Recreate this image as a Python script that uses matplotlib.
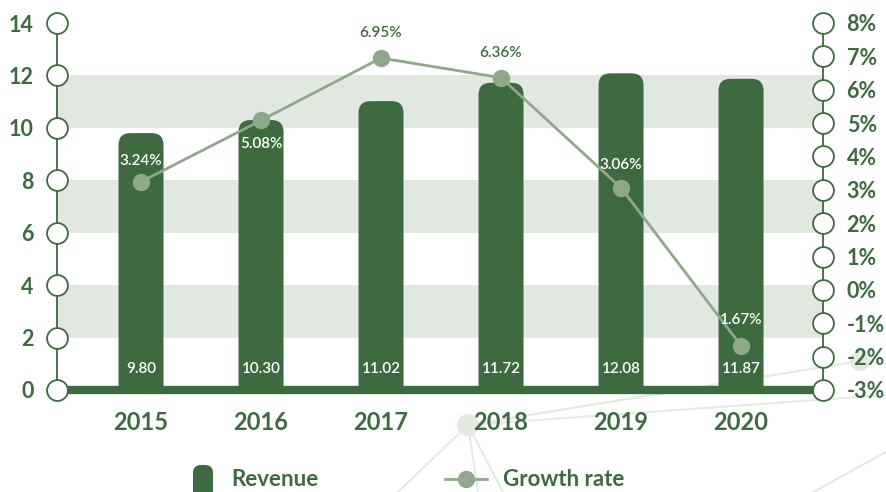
import matplotlib
matplotlib.use("Agg")
import matplotlib.pyplot as plt
from matplotlib.patches import FancyBboxPatch, Circle
from matplotlib.lines import Line2D
from matplotlib import font_manager

# ---- data ----
years = ["2015", "2016", "2017", "2018", "2019", "2020"]
revenue = [9.80, 10.30, 11.02, 11.72, 12.08, 11.87]
growth = [3.24, 5.08, 6.95, 6.36, 3.06, -1.67]
growth_labels = ["3.24%", "5.08%", "6.95%", "6.36%", "3.06%", "1.67%"]
left_ticks = [0, 2, 4, 6, 8, 10, 12, 14]
right_ticks = [-3, -2, -1, 0, 1, 2, 3, 4, 5, 6, 7, 8]

# ---- style ----
DARK = "#3d6a3f"
LINE = "#8fa88a"
BAND = "#e1e8e0"
DECO = "#e3eae2"
plt.rcParams["font.family"] = ["Lato", "DejaVu Sans"]
names = {f.name for f in font_manager.fontManager.ttflist}
if "Liberation Sans Narrow" in names:
    SMALL = dict(family=["Liberation Sans Narrow", "DejaVu Sans"], fontsize=12.5, fontweight="bold")
else:
    SMALL = dict(family=["Lato", "DejaVu Sans"], fontsize=11, fontweight="semibold")

W, H = 886, 492
fig = plt.figure(figsize=(W / 100, H / 100), dpi=100)
ax_l, ax_b, ax_r, ax_t = 57, 390, 823, 23
ax = fig.add_axes([ax_l / W, (H - ax_b) / H, (ax_r - ax_l) / W, (ax_b - ax_t) / H])
ax.set_facecolor("none")
xmin, xmax = -0.7, 5.683
ax.set_xlim(xmin, xmax)
ax.set_ylim(0, 14)
ax2 = ax.twinx()
ax2.set_ylim(-3, 8)
ax2.set_facecolor("none")

# decorative background network
px = fig.dpi_scale_trans
def P(x, y):
    return x / 100, (H - y) / 100
deco_lines = [((468, 425), (860, 361)), ((468, 425), (886, 395)), ((860, 361), (886, 363)),
              ((468, 425), (398, 492)), ((468, 425), (478, 492)), ((468, 425), (503, 492)),
              ((813, 492), (886, 452))]
for (a, b) in deco_lines:
    pa, pb = P(*a), P(*b)
    fig.add_artist(Line2D([pa[0], pb[0]], [pa[1], pb[1]], transform=px, color=DECO, lw=1.5, zorder=-2))
for (c, r) in [((468, 425), 11), ((860, 361), 10)]:
    fig.add_artist(Circle(P(*c), r / 100, transform=px, color=DECO, zorder=-2, lw=0))

# bands
for lo in (2, 6, 10):
    ax.axhspan(lo, lo + 2, color=BAND, lw=0, zorder=0)

# bars with rounded tops
ppx = (ax_r - ax_l) / (xmax - xmin)
ppy = (ax_b - ax_t) / 14
bw = 45 / ppx
rad = 12 / ppx
asp = ppx / ppy
xs = list(range(len(years)))
for i, v in zip(xs, revenue):
    p = FancyBboxPatch((i - bw / 2, -2), bw, v + 2,
                       boxstyle=f"round,pad=0,rounding_size={rad}",
                       mutation_aspect=asp, fc=DARK, ec="none", zorder=2)
    ax.add_patch(p)
    ax.annotate(f"{v:.2f}", (i, 0), xytext=(0, 21), textcoords="offset pixels",
                ha="center", va="center", color="white", zorder=6, **SMALL)

# baseline and axes lines with circles
ytr = ax.get_yaxis_transform()
ax.plot([0, 1], [0, 0], transform=ytr, color=DARK, lw=6, solid_capstyle="butt",
        clip_on=False, zorder=4)
ax.plot([0, 0], [0, 14], transform=ytr, color=DARK, lw=1.3, clip_on=False, zorder=4)
ax.plot([0] * len(left_ticks), left_ticks, "o", transform=ytr, ms=15, mfc="white",
        mec=DARK, mew=1.3, clip_on=False, zorder=5)
ytr2 = ax2.get_yaxis_transform()
ax2.plot([1, 1], [-3, 8], transform=ytr2, color=DARK, lw=1.3, clip_on=False, zorder=4)
ax2.plot([1] * len(right_ticks), right_ticks, "o", transform=ytr2, ms=15, mfc="white",
         mec=DARK, mew=1.3, clip_on=False, zorder=5)

# growth line
ax2.plot(xs, growth, color=LINE, lw=2, marker="o", ms=11.5, zorder=3)
offsets = [-21, 24, -25, -25, -23, -26]
for i, (g, lab, off) in enumerate(zip(growth, growth_labels, offsets)):
    on_bar = (g + 3) / 11 * 14 + (-off) / ppy < revenue[i]
    ax2.annotate(lab, (i, g), xytext=(0, -off), textcoords="offset pixels",
                 ha="center", va="center",
                 color="white" if on_bar else DARK, zorder=6, **SMALL)

# ticks
for a in (ax, ax2):
    for s in a.spines.values():
        s.set_visible(False)
ax.set_xticks(xs)
ax.set_xticklabels(years, fontsize=17, fontweight="bold", color=DARK)
ax.set_yticks(left_ticks)
ax.set_yticklabels([str(t) for t in left_ticks], fontsize=15.5, fontweight="bold", color=DARK)
ax.tick_params(axis="both", length=0)
ax.tick_params(axis="y", pad=17)
ax.tick_params(axis="x", pad=15)
ax2.set_yticks(right_ticks)
ax2.set_yticklabels([f"{t}%" for t in right_ticks], fontsize=15.5, fontweight="bold", color=DARK)
ax2.tick_params(axis="y", length=0, pad=17)

# legend
fig.add_artist(FancyBboxPatch(P(193, 520), 0.20, 0.55, boxstyle="round,pad=0,rounding_size=0.08",
                              transform=px, fc=DARK, ec="none"))
fig.text(*P(231, 480), "Revenue", transform=px, va="center", ha="left",
         fontsize=16, fontweight="bold", color=DARK)
a, b = P(445, 479), P(487, 479)
fig.add_artist(Line2D([a[0], b[0]], [a[1], b[1]], transform=px, color=LINE, lw=2))
c = P(466, 479)
fig.add_artist(Line2D([c[0]], [c[1]], transform=px, color=LINE, marker="o", ms=11.5))
fig.text(*P(503, 480), "Growth rate", transform=px, va="center", ha="left",
         fontsize=16, fontweight="bold", color=DARK)

fig.savefig("out.png", dpi=100)
